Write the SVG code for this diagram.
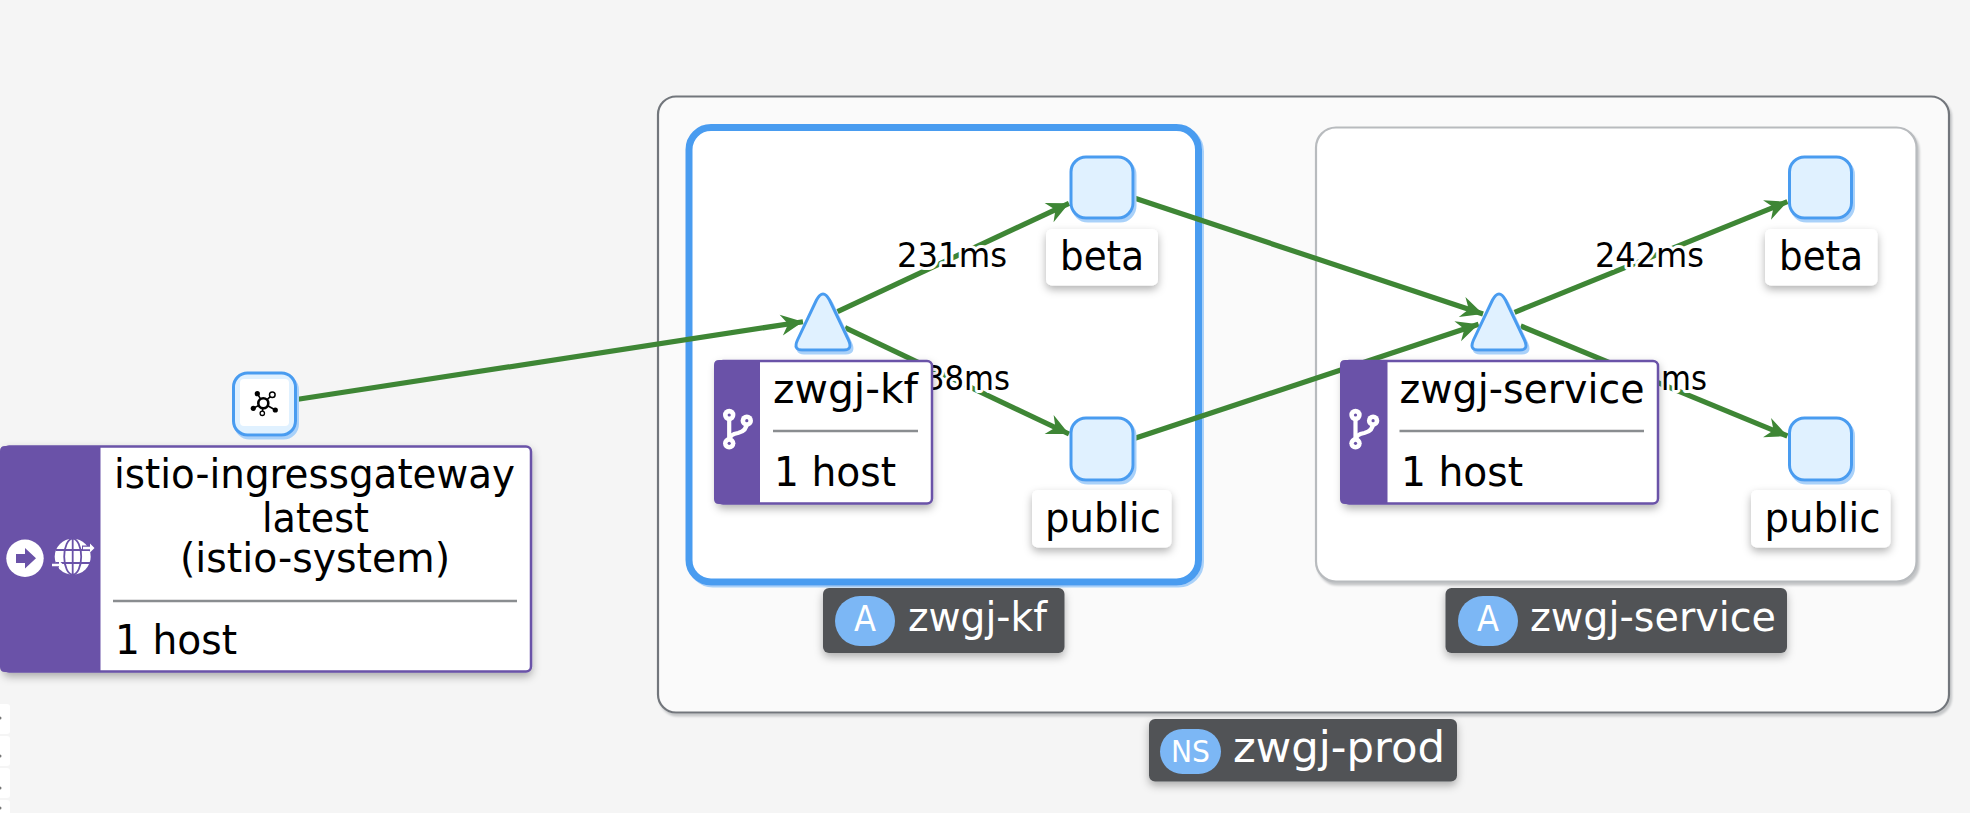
<svg xmlns="http://www.w3.org/2000/svg" xmlns:xlink="http://www.w3.org/1999/xlink" width="1970" height="813" viewBox="0 0 1970 813">
<style>
text{font-family:"DejaVu Sans","Liberation Sans",sans-serif;fill:#000}
.lbl{font-size:41px}
.edge{fill:none;stroke:#3e8635;stroke-width:5.2;marker-end:url(#arrow)}
.elbl{font-size:34px;stroke:#fff;stroke-width:6;stroke-linejoin:round;paint-order:stroke}
.svcnode{fill:#e0f1ff;stroke:#4a9cf0;stroke-width:3;filter:url(#blue)}
.card{fill:#fff;filter:url(#soft)}
.purple{fill:#6a52a8}
.wl{fill:#fff;stroke:#6a52a8;stroke-width:2.5;filter:url(#soft)}
.div{stroke:#8a8d90;stroke-width:2.5}
.chip{fill:#515357;filter:url(#soft)}
.badge{fill:#7cb7f5}
.white{fill:#fff}
.ring{fill:#fff;stroke:none}
.hole{fill:#6a52a8}
.branch{fill:none;stroke:#fff;stroke-width:4.2}
</style>
<defs>
<marker id="arrow" markerUnits="userSpaceOnUse" markerWidth="30" markerHeight="30" refX="25" refY="13" orient="auto">
<path d="M25,13 L3,2.5 L10,13 L3,23.5 Z" fill="#3e8635"/>
</marker>
<filter id="soft" x="-20%" y="-20%" width="140%" height="150%"><feDropShadow dx="0" dy="4" stdDeviation="4.5" flood-color="#000" flood-opacity="0.3"/></filter>
<filter id="blue" x="-20%" y="-20%" width="140%" height="140%"><feDropShadow dx="2" dy="3" stdDeviation="0.6" flood-color="#a9d1f9"/></filter>
<filter id="blue2" x="-5%" y="-5%" width="110%" height="110%"><feDropShadow dx="2" dy="2" stdDeviation="0.6" flood-color="#a9d1f9"/></filter>
<filter id="grey" x="-5%" y="-5%" width="110%" height="110%"><feDropShadow dx="2" dy="3" stdDeviation="1" flood-color="#c4c6c8"/></filter>
<g id="gitbranch">
<path class="branch" d="M729.2,415 V443.3"/>
<path class="branch" d="M746.8,422 Q747,431 738,433 Q730,434 729.2,440"/>
<circle class="ring" cx="729.2" cy="415" r="6.2"/><circle class="hole" cx="729.2" cy="415" r="1.6"/>
<circle class="ring" cx="746.8" cy="420.7" r="6.2"/><circle class="hole" cx="746.8" cy="420.7" r="1.6"/>
<circle class="ring" cx="729.2" cy="443.3" r="6.2"/><circle class="hole" cx="729.2" cy="443.3" r="1.6"/>
</g>
</defs>
<rect width="1970" height="813" fill="#f5f5f5"/>

<g id="toolbar">
<rect x="-6" y="704" width="16" height="30" rx="3" fill="#fff"/><circle cx="0" cy="718" r="1.5" fill="#777"/>
<rect x="-6" y="736" width="16" height="30" rx="3" fill="#fff"/><circle cx="0" cy="756" r="1.5" fill="#777"/>
<rect x="-6" y="768" width="16" height="30" rx="3" fill="#fff"/><circle cx="0" cy="788" r="1.5" fill="#777"/>
<rect x="-6" y="800" width="16" height="30" rx="3" fill="#fff"/><circle cx="0" cy="808" r="1.5" fill="#777"/>
</g>

<g id="ns-zwgj-prod-box">
<rect x="658" y="96.5" width="1291" height="616" rx="18" fill="#fafafa" stroke="#72767b" stroke-width="2.2" filter="url(#grey)"/>
</g>
<g id="app-zwgj-kf-box">
<rect x="689" y="127.5" width="509.5" height="454.5" rx="22" fill="#fff" stroke="#4a9cf0" stroke-width="7" filter="url(#blue2)"/>
</g>
<g id="app-zwgj-service-box">
<rect x="1316" y="127.5" width="600.5" height="454" rx="20" fill="#fff" stroke="#b8bbbe" stroke-width="2.2" filter="url(#grey)"/>
</g>

<g id="connectors">
<path class="edge" d="M298,399.3 L803,321.7"/>
<path class="edge" d="M837.5,311.7 L1069,203.3"/>
<path class="edge" d="M845,327.7 L1069,434"/>
<path class="edge" d="M1135,198.3 L1483,314"/>
<path class="edge" d="M1135,438.3 L1478.6,324.3"/>
<path class="edge" d="M1514.6,312.3 L1787.4,201.7"/>
<path class="edge" d="M1520.7,326 L1787.4,436"/>
</g>

<g id="edge-labels">
<text class="elbl" x="897" y="266.5" textLength="110" lengthAdjust="spacingAndGlyphs">231ms</text>
<text class="elbl" x="1595" y="266.5" textLength="109" lengthAdjust="spacingAndGlyphs">242ms</text>
<text class="elbl" x="925" y="390" textLength="85" lengthAdjust="spacingAndGlyphs">38ms</text>
<text class="elbl" x="1661" y="390" textLength="46" lengthAdjust="spacingAndGlyphs">ms</text>
</g>

<g id="gateway-node">
<rect class="svcnode" x="233.5" y="373" width="62" height="62" rx="14"/>
<rect x="240" y="379" width="49" height="47" rx="4" fill="#fff"/>
<g fill="none" stroke="#000" stroke-width="1.6">
<path d="M263.3,403.3 L257.3,393.7 M263.3,403.3 L272.3,394.7 M263.3,403.3 L253.3,408.3 M263.3,403.3 L275.3,410 M263.3,403.3 L262.3,413.3"/>
</g>
<circle cx="263.3" cy="403.3" r="5" fill="#fff" stroke="#000" stroke-width="2.6"/>
<circle cx="257.3" cy="393.7" r="2.6"/><circle cx="272.3" cy="394.7" r="2.8" fill="#fff" stroke="#000" stroke-width="1.5"/>
<circle cx="253.3" cy="408.3" r="2.6"/><circle cx="275.3" cy="410" r="2.6"/>
<circle cx="262.3" cy="413.3" r="2.2" fill="#fff" stroke="#000" stroke-width="1.3"/>
</g>

<g id="gateway-label">
<rect class="wl" x="4" y="446.5" width="527" height="225" rx="5"/>
<path class="purple" d="M5,446 H100.5 V672 H5 Q0,672 0,667 V451 Q0,446 5,446 Z"/>
<circle class="white" cx="25" cy="558.3" r="18.7"/>
<path class="purple" d="M16,554 H25 V548 L36,558.3 L25,568.5 V563 H16 Z"/>
<g>
<circle class="white" cx="72.7" cy="556.7" r="18"/>
<g fill="none" stroke="#6a52a8" stroke-width="1.8">
<ellipse cx="72.7" cy="556.7" rx="8.5" ry="18"/>
<path d="M72.7,538.7 V574.7 M56,550 H90 M56,563 H90"/>
</g>
<path d="M82,548 H91 M50,565 H60" stroke="#6a52a8" stroke-width="5" fill="none"/>
<path d="M83,546.8 H90 V543.5 L94.5,548 L90,552.5 V549.2 H83 Z M52,563.8 H59 V560.5 L63.5,565 L59,569.5 V566.2 H52 Z" fill="#fff"/>
</g>
<text class="lbl" x="114" y="488" textLength="401" lengthAdjust="spacingAndGlyphs">istio-ingressgateway</text>
<text class="lbl" x="262" y="532" textLength="107" lengthAdjust="spacingAndGlyphs">latest</text>
<text class="lbl" x="180" y="572" textLength="270" lengthAdjust="spacingAndGlyphs">(istio-system)</text>
<line class="div" x1="113" y1="601" x2="517" y2="601"/>
<text class="lbl" x="115" y="654" textLength="122" lengthAdjust="spacingAndGlyphs">1 host</text>
</g>

<g id="kf-service-node">
<path class="svcnode" d="M816.5,300 Q823,288 829.5,300 L848.5,340 Q853,350 844,350 L802,350 Q793,350 797.5,340 Z"/>
</g>
<g id="kf-beta-node">
<rect class="svcnode" x="1071" y="157" width="62" height="61" rx="15"/>
<rect class="card" x="1046" y="229" width="112" height="56.5" rx="6"/>
<text class="lbl" x="1060" y="270" textLength="84" lengthAdjust="spacingAndGlyphs">beta</text>
</g>
<g id="kf-public-node">
<rect class="svcnode" x="1071" y="418" width="62" height="62" rx="15"/>
<rect class="card" x="1032" y="490" width="139.5" height="57.5" rx="6"/>
<text class="lbl" x="1045" y="531.5" textLength="116" lengthAdjust="spacingAndGlyphs">public</text>
</g>
<g id="kf-workload-label">
<rect class="wl" x="718" y="361" width="214" height="142.5" rx="5"/>
<path class="purple" d="M719,360 H760 V504 H719 Q714,504 714,499 V365 Q714,360 719,360 Z"/>
<use xlink:href="#gitbranch" href="#gitbranch"/>
<text class="lbl" x="773" y="403" textLength="145" lengthAdjust="spacingAndGlyphs">zwgj-kf</text>
<line class="div" x1="773" y1="431" x2="918" y2="431"/>
<text class="lbl" x="774" y="486" textLength="122" lengthAdjust="spacingAndGlyphs">1 host</text>
</g>

<g id="svc-service-node">
<path class="svcnode" transform="translate(676,0)" d="M816.5,300 Q823,288 829.5,300 L848.5,340 Q853,350 844,350 L802,350 Q793,350 797.5,340 Z"/>
</g>
<g id="svc-beta-node">
<rect class="svcnode" x="1789.5" y="157" width="62" height="61" rx="15"/>
<rect class="card" x="1765" y="229" width="112.5" height="56.5" rx="6"/>
<text class="lbl" x="1779" y="270" textLength="84" lengthAdjust="spacingAndGlyphs">beta</text>
</g>
<g id="svc-public-node">
<rect class="svcnode" x="1789.5" y="418" width="62" height="62" rx="15"/>
<rect class="card" x="1751" y="490" width="139.5" height="57.5" rx="6"/>
<text class="lbl" x="1764.5" y="531.5" textLength="116" lengthAdjust="spacingAndGlyphs">public</text>
</g>
<g id="svc-workload-label">
<rect class="wl" x="1344" y="361" width="314" height="142.5" rx="5"/>
<path class="purple" d="M1345,360 H1387.5 V504 H1345 Q1340,504 1340,499 V365 Q1340,360 1345,360 Z"/>
<use xlink:href="#gitbranch" href="#gitbranch" transform="translate(626.3,0)"/>
<text class="lbl" x="1399.5" y="403" textLength="245" lengthAdjust="spacingAndGlyphs">zwgj-service</text>
<line class="div" x1="1399.5" y1="431" x2="1644" y2="431"/>
<text class="lbl" x="1401" y="486" textLength="122" lengthAdjust="spacingAndGlyphs">1 host</text>
</g>

<g id="chip-zwgj-kf">
<rect class="chip" x="823" y="588" width="241.5" height="65" rx="6"/>
<rect class="badge" x="835" y="596" width="60" height="50" rx="25"/>
<text x="854" y="631" font-size="35" style="fill:#fff" textLength="22" lengthAdjust="spacingAndGlyphs">A</text>
<text x="908" y="631" font-size="41" style="fill:#fff" textLength="139" lengthAdjust="spacingAndGlyphs">zwgj-kf</text>
</g>
<g id="chip-zwgj-service">
<rect class="chip" x="1445.5" y="588" width="341.5" height="65" rx="6"/>
<rect class="badge" x="1458" y="596" width="60" height="50" rx="25"/>
<text x="1477" y="631" font-size="35" style="fill:#fff" textLength="22" lengthAdjust="spacingAndGlyphs">A</text>
<text x="1530" y="631" font-size="41" style="fill:#fff" textLength="246" lengthAdjust="spacingAndGlyphs">zwgj-service</text>
</g>
<g id="chip-zwgj-prod">
<rect class="chip" x="1149" y="719" width="308" height="62.5" rx="6"/>
<rect class="badge" x="1160" y="729" width="61" height="45" rx="22.5"/>
<text x="1171" y="761.5" font-size="31" style="fill:#fff" textLength="39" lengthAdjust="spacingAndGlyphs">NS</text>
<text x="1233" y="761.5" font-size="42" style="fill:#fff" textLength="212" lengthAdjust="spacingAndGlyphs">zwgj-prod</text>
</g>
</svg>
